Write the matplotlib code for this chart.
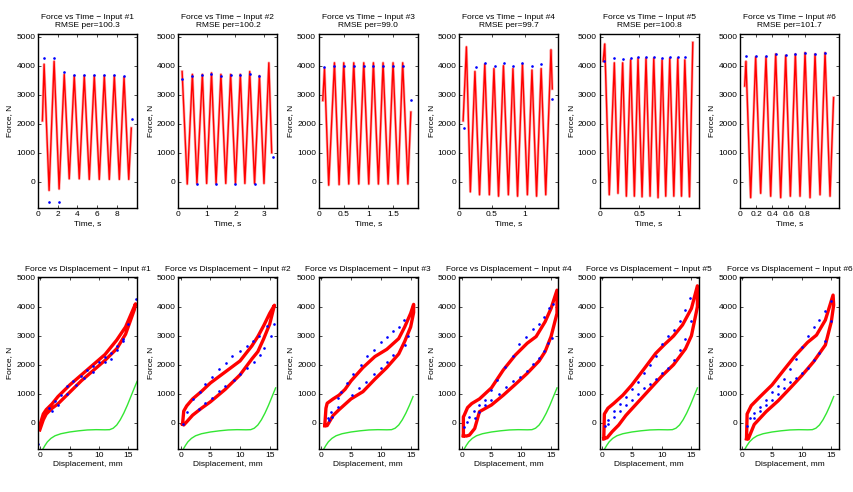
import matplotlib
matplotlib.use('Agg')
import matplotlib.pyplot as plt
import numpy as np

plt.rcParams['font.family'] = ['Liberation Sans', 'DejaVu Sans']
plt.rcParams['font.size'] = 6

# ---- top row: force vs time (fit = red line, measured = blue dots) ----
rmse = ['100.3', '100.2', '99.0', '99.7', '100.8', '101.7']
t_xlim = [10.08, 3.47, 2.0, 1.51, 1.25, 1.227]
t_ticks = [[0, 2, 4, 6, 8], [0, 1, 2, 3], [0, 0.5, 1, 1.5], [0, 0.5, 1], [0, 0.5, 1],
           [0, 0.2, 0.4, 0.6, 0.8]]

fit_t1 = [0.45, 0.62, 1.13, 1.64, 2.15, 2.67, 3.18, 3.69, 4.20, 4.71, 5.22, 5.73, 6.24, 6.75,
          7.26, 7.77, 8.28, 8.76, 9.24, 9.5]
fit_f1 = [2100, 4050, -300, 4150, -250, 3700, 100, 3650, 100, 3650, 80, 3650, 80, 3650,
          80, 3650, 80, 3600, 80, 1850]
meas_t1 = [0.62, 1.64, 2.67, 3.69, 4.71, 5.73, 6.75, 7.77, 8.76, 1.16, 2.18, 9.55]
meas_f1 = [4250, 4250, 3770, 3680, 3680, 3680, 3680, 3680, 3640, -700, -710, 2150]

fit_t2 = [0.13, 0.31, 0.49, 0.65, 0.84, 0.99, 1.16, 1.32, 1.49, 1.66, 1.83, 2.0, 2.17, 2.33,
          2.5, 2.67, 2.84, 3.0, 3.17, 3.27]
fit_f2 = [3800, -80, 3700, -60, 3700, -60, 3750, -60, 3700, -60, 3700, -60, 3700, -60,
          3800, -60, 3650, -60, 4100, 1000]
meas_t2 = [0.13, 0.49, 0.84, 1.16, 1.49, 1.83, 2.17, 2.5, 2.84, 0.65, 1.32, 2.0, 2.67, 3.3]
meas_f2 = [3550, 3650, 3680, 3700, 3650, 3680, 3680, 3720, 3660, -70, -70, -70, -70, 850]

fit_t3 = [0.08, 0.115, 0.2, 0.316, 0.41, 0.504, 0.605, 0.706, 0.807, 0.908, 1.009, 1.103,
          1.204, 1.298, 1.4, 1.5, 1.6, 1.695, 1.8, 1.86]
fit_f3 = [2800, 3900, -120, 4100, -100, 4100, -80, 4100, -80, 4100, -80, 4100,
          -80, 4100, -80, 4100, -80, 4100, -80, 2400]
meas_t3 = [0.115, 0.316, 0.504, 0.706, 0.908, 1.103, 1.298, 1.5, 1.695, 1.87]
meas_f3 = [3950, 4000, 4000, 4000, 4000, 4000, 4000, 4000, 4000, 2800]

fit_t4 = [0.06, 0.11, 0.17, 0.24, 0.31, 0.39, 0.46, 0.53, 0.60, 0.675, 0.75, 0.82, 0.89,
          0.965, 1.04, 1.11, 1.18, 1.25, 1.32, 1.40, 1.42]
fit_f4 = [2100, 4650, -350, 3800, -450, 4050, -450, 3900, -500, 4000, -450, 3900, -500,
          4050, -450, 3850, -500, 3900, -450, 4550, 3200]
meas_t4 = [0.066, 0.25, 0.40, 0.54, 0.68, 0.82, 0.96, 1.11, 1.25, 1.41]
meas_f4 = [1860, 3970, 4100, 4000, 4100, 4000, 4100, 4000, 4050, 2850]

fit_t5 = [0.045, 0.065, 0.122, 0.186, 0.232, 0.291, 0.338, 0.392, 0.439, 0.485, 0.536, 0.586,
          0.637, 0.684, 0.738, 0.789, 0.835, 0.886, 0.937, 0.987, 1.034, 1.076, 1.135, 1.177]
fit_f5 = [4150, 4750, -450, 4100, -400, 4100, -500, 4200, -500, 4250, -520, 4250,
          -500, 4250, -550, 4200, -500, 4250, -500, 4250, -500, 4200, -520, 4800]
meas_t5 = [0.06, 0.186, 0.291, 0.392, 0.485, 0.586, 0.684, 0.789, 0.886, 0.987, 1.076]
meas_f5 = [4150, 4250, 4220, 4280, 4300, 4300, 4300, 4250, 4300, 4300, 4300]

fit_t6 = [0.058, 0.074, 0.132, 0.194, 0.256, 0.322, 0.38, 0.442, 0.504, 0.566, 0.624, 0.686,
          0.744, 0.806, 0.868, 0.93, 0.992, 1.054, 1.116, 1.16]
fit_f6 = [3300, 4150, -550, 4300, -400, 4300, -500, 4400, -550, 4350, -500, 4400,
          -500, 4450, -550, 4400, -450, 4450, -500, 2900]
meas_t6 = [0.074, 0.194, 0.322, 0.442, 0.566, 0.686, 0.806, 0.93, 1.054]
meas_f6 = [4320, 4350, 4350, 4420, 4380, 4420, 4450, 4420, 4450]

fit_t = [fit_t1, fit_t2, fit_t3, fit_t4, fit_t5, fit_t6]
fit_f = [fit_f1, fit_f2, fit_f3, fit_f4, fit_f5, fit_f6]
meas_t = [meas_t1, meas_t2, meas_t3, meas_t4, meas_t5, meas_t6]
meas_f = [meas_f1, meas_f2, meas_f3, meas_f4, meas_f5, meas_f6]

# ---- bottom row: force vs displacement ----
loop_x1 = [-0.1, 0.5, 1, 2, 3, 5, 7, 9, 11, 13, 14.5, 16.2, 16, 14.5, 13, 11, 9, 7, 5, 3, 2, 1, 0.5, -0.1]
loop_f1 = [-100, 300, 450, 650, 900, 1300, 1650, 2000, 2350, 2850, 3300, 4100, 3900, 3050, 2550,
           2150, 1800, 1450, 1050, 650, 500, 300, 100, -250]
dots_x1 = [-0.4, 1.5, 2.5, 3.5, 4.5, 5.5, 7, 8, 9, 10, 11, 12, 13, 14, 15, 16.3,
           2, 3, 4.5, 6, 7.5, 9, 11, 12, 13, 14]
dots_f1 = [-750, 500, 750, 950, 1250, 1450, 1600, 1800, 1950, 2100, 2250, 2400, 2650, 2900, 3400, 4250,
           400, 600, 1000, 1300, 1550, 1750, 2100, 2200, 2500, 2800]

loop_x2 = [0.3, 0.5, 1, 2, 3.5, 5, 7.5, 10, 12, 13, 14, 15, 15.8, 15, 14, 13, 12, 10, 7.5, 5, 3.5,
           2, 1, 0.5, 0.3]
loop_f2 = [-50, 400, 580, 820, 1080, 1370, 1750, 2130, 2650, 2970, 3350, 3770, 4050, 3400, 2900,
           2450, 2200, 1650, 1150, 720, 500, 260, 30, -80, -50]
dots_x2 = [0.3, 1, 2, 3.2, 4.1, 5.2, 6.5, 7.6, 8.7, 10, 11.1, 12.2, 13.2, 14.6,
           3.1, 4.1, 5.2, 6.5, 7.5, 8.9, 10, 11.2, 12.3, 13.4, 14.1, 15.2, 15.8]
dots_f2 = [-60, 380, 820, 1070, 1320, 1570, 1850, 2070, 2300, 2470, 2650, 2800, 3000, 3350,
           470, 670, 860, 1110, 1280, 1480, 1670, 1900, 2100, 2330, 2560, 3000, 3400]

loop_x3 = [0.6, 0.8, 1, 2, 3, 4, 5, 7, 9, 11, 13, 14, 15, 15.5, 15.5, 15, 14, 13, 11, 9, 7, 5,
           3, 2, 1, 0.6]
loop_f3 = [-100, 500, 670, 820, 950, 1150, 1440, 1900, 2280, 2530, 2900, 3300, 3770, 4080, 3800,
           3300, 2800, 2370, 1900, 1500, 1070, 820, 450, 250, -100, -100]
dots_x3 = [1.1, 1.7, 2.8, 3.3, 4.3, 5.4, 6.6, 7.6, 8.8, 10, 11, 12.1, 13.1, 13.9,
           1.3, 1.85, 2.8, 5.1, 6.3, 7.5, 8.8, 10, 11, 12.1, 14, 14.6]
dots_f3 = [170, 380, 840, 1070, 1360, 1680, 2000, 2300, 2500, 2770, 2970, 3160, 3300, 3540,
           90, 200, 550, 950, 1180, 1410, 1670, 1900, 2080, 2330, 2680, 3000]

loop_x4 = [0.3, 0.3, 0.45, 1, 1.7, 3, 5, 7, 9, 11, 12.5, 14, 15, 16, 16, 15, 14, 13, 11, 9, 7, 5,
           3, 2.2, 1.3, 0.8, 0.3]
loop_f4 = [-450, 200, 260, 520, 660, 820, 1200, 1820, 2330, 2740, 2970, 3480, 3940, 4570, 3770,
           2970, 2450, 2130, 1700, 1320, 950, 610, 380, -200, -430, -460, -450]
dots_x4 = [0.45, 0.85, 1.3, 2.1, 3, 3.9, 5, 6, 7.3, 8.6, 9.6, 10.8, 11.9, 12.9, 13.8, 14.7, 15.4,
           2.2, 3, 4, 5, 6.3, 7.5, 8.7, 9.8, 10.9, 12, 13, 13.9, 14.5, 15.1]
dots_f4 = [-140, 30, 200, 400, 600, 800, 1120, 1470, 1930, 2300, 2700, 2970, 3230, 3400, 3640,
           3940, 4100, 150, 380, 610, 790, 1000, 1240, 1440, 1590, 1790, 2020, 2240, 2470, 2740,
           2930]

loop_x5 = [0.3, 0.4, 1, 2, 3.5, 5, 7, 9, 10.5, 12, 13.5, 15, 16, 16, 15, 14, 12, 10, 8, 6, 4,
           2.8, 1.7, 0.85, 0.3]
loop_f5 = [-550, 300, 500, 670, 950, 1300, 1840, 2390, 2700, 2990, 3370, 3940, 4720, 4000,
           3000, 2550, 2000, 1600, 1150, 700, 250, -80, -310, -520, -550]
dots_x5 = [0.5, 1, 2, 3, 4, 5, 6, 7, 8, 9, 10, 11, 12, 13, 14, 14.7,
           1, 2, 3, 4, 5, 6, 7, 8, 9, 10, 11, 12, 13, 14, 15]
dots_f5 = [-100, 100, 400, 650, 900, 1150, 1400, 1700, 2000, 2300, 2700, 3000, 3200, 3500, 3900,
           4300, -50, 200, 400, 600, 800, 1000, 1200, 1350, 1500, 1700, 1900, 2150, 2500, 2900,
           3500]

loop_x6 = [0.7, 0.8, 1.5, 3, 5, 7, 9, 11, 12.5, 14, 15.3, 15.4, 15, 14, 12, 10, 8, 6, 4, 2, 1,
           0.7]
loop_f6 = [-550, 300, 590, 900, 1300, 1820, 2330, 2770, 3020, 3540, 4400, 4060, 3480, 2680, 2100,
           1620, 1180, 750, 380, -60, -560, -550]
dots_x6 = [0.8, 1.3, 2, 3, 4, 5, 6, 7, 8, 9, 10, 11, 12, 13, 14, 15,
           2, 3, 4, 5, 6, 7, 8, 9, 10, 11, 12, 13, 14, 15]
dots_f6 = [-100, 150, 350, 550, 800, 1050, 1250, 1500, 1850, 2200, 2600, 3000, 3300, 3550, 3850,
           4200, 150, 400, 600, 800, 1000, 1200, 1400, 1550, 1700, 1900, 2150, 2400, 2800, 3500]

loop_x = [loop_x1, loop_x2, loop_x3, loop_x4, loop_x5, loop_x6]
loop_f = [loop_f1, loop_f2, loop_f3, loop_f4, loop_f5, loop_f6]
dots_x = [dots_x1, dots_x2, dots_x3, dots_x4, dots_x5, dots_x6]
dots_f = [dots_f1, dots_f2, dots_f3, dots_f4, dots_f5, dots_f6]

# green curve (same shape in every panel, cut at each panel's max displacement)
green_x = [0.2, 0.4, 0.8, 1.2, 1.8, 2.5, 3.5, 5, 6.5, 8, 9.5, 11, 11.8, 12.4, 13, 13.6, 14.2,
           14.8, 15.4, 16, 16.45]
green_f = [-1050, -920, -780, -660, -540, -450, -380, -320, -280, -250, -240, -245, -240, -190,
           -80, 100, 330, 600, 900, 1200, 1420]
green_xmax = [16.45, 16.0, 15.5, 16.2, 16.0, 15.4]
d_xlim = [16.45, 16.3, 16.2, 16.2, 16.2, 16.3]

W, H = 854, 492
fig = plt.figure(figsize=(W / 100, H / 100), dpi=100)


def style(ax):
    ax.tick_params(direction='in', length=2.5, width=0.5, top=True, right=True,
                   labelsize=6, pad=2)
    for s in ax.spines.values():
        s.set_linewidth(1.0)


for i in range(6):
    left = 38 + i * 140.4
    # top
    ax = fig.add_axes([left / W, 1 - 208.3 / H, 99 / W, 174.6 / H])
    ax.plot(fit_t[i], fit_f[i], color=(1, 0.3, 0.3), lw=2.0, alpha=0.45)
    ax.plot(fit_t[i], fit_f[i], color='red', lw=1.0)
    ax.plot(meas_t[i], meas_f[i], '.', color='blue', ms=1.8)
    ax.set_xlim(0, t_xlim[i])
    ax.set_ylim(-917, 5103)
    ax.set_xticks(t_ticks[i])
    ax.set_xticklabels([('%g' % v) for v in t_ticks[i]])
    ax.set_yticks([0, 1000, 2000, 3000, 4000, 5000])
    ax.set_title('Force vs Time \u2212 Input #%d\nRMSE per=%s' % (i + 1, rmse[i]),
                 fontsize=6, pad=5, linespacing=1.2)
    ax.set_xlabel('Time, s', labelpad=1.5)
    ax.set_ylabel('Force, N', labelpad=2)
    style(ax)

    # bottom
    ax = fig.add_axes([left / W, 1 - 449.3 / H, 99 / W, 172.6 / H])
    gx = [x for x in green_x if x <= green_xmax[i]]
    gf = green_f[:len(gx)]
    ax.plot(gx, gf, color=(0.2, 0.9, 0.2), lw=1.0)
    ax.plot(loop_x[i], loop_f[i], color='red', lw=2.4)
    ax.plot(dots_x[i], dots_f[i], '.', color='blue', ms=1.8)
    ax.set_xlim(-0.4, d_xlim[i])
    ax.set_ylim(-917, 5034)
    ax.set_xticks([0, 5, 10, 15])
    ax.set_yticks([0, 1000, 2000, 3000, 4000, 5000])
    ax.set_title('Force vs Displacement \u2212 Input #%d' % (i + 1), fontsize=6, pad=4)
    ax.set_xlabel('Displacement, mm', labelpad=1.5)
    ax.set_ylabel('Force, N', labelpad=2)
    style(ax)

fig.savefig('out.png', dpi=100)
